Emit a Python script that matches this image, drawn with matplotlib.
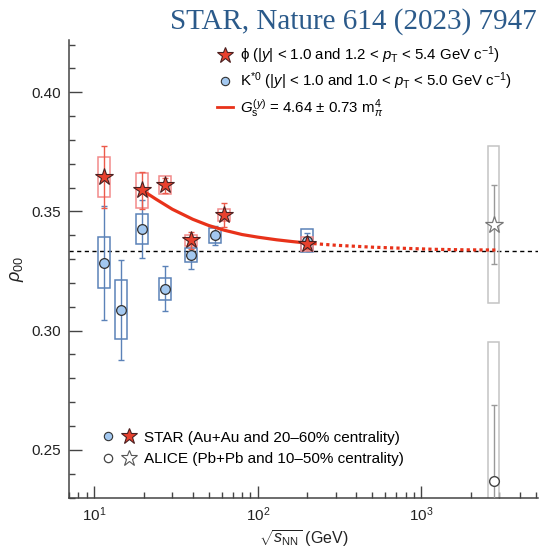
import numpy as np
import matplotlib
matplotlib.use('Agg')
from matplotlib import pyplot as plt
from matplotlib.patches import Rectangle
from matplotlib.lines import Line2D
from matplotlib.legend_handler import HandlerTuple
from matplotlib.ticker import MultipleLocator

plt.rcParams['font.family'] = ['Liberation Sans', 'DejaVu Sans']
plt.rcParams['mathtext.fontset'] = 'custom'
plt.rcParams['mathtext.rm'] = 'Liberation Sans'
plt.rcParams['mathtext.it'] = 'Liberation Sans:italic'
plt.rcParams['mathtext.bf'] = 'Liberation Sans:bold'

# STAR phi, Au+Au 20-60%
phi_e = [11.5, 19.6, 27.0, 39.0, 62.4, 200.0]
phi_rho = [0.3644, 0.3588, 0.3609, 0.3378, 0.3486, 0.3363]
phi_stat = [0.0131, 0.0076, 0.0030, 0.0035, 0.0050, 0.0020]
phi_sys = [0.0084, 0.0072, 0.0038, 0.0024, 0.0026, 0.0030]

# STAR K*0, Au+Au 20-60%
ks_e = [11.5, 14.5, 19.6, 27.0, 39.0, 54.4, 200.0]
ks_rho = [0.3284, 0.3088, 0.3426, 0.3175, 0.3318, 0.3399, 0.3377]
ks_stat = [0.0240, 0.0210, 0.0120, 0.0094, 0.0060, 0.0040, 0.0032]
ks_sys = [0.0107, 0.0124, 0.0063, 0.0047, 0.0030, 0.0032, 0.0049]

# ALICE Pb+Pb 10-50%
alice_e = [2760.0]
alice_phi_rho = [0.3444]
alice_phi_stat = [0.0165]
alice_phi_sys = [0.0330]
alice_ks_rho = [0.2371]
alice_ks_stat = [0.0318]
alice_ks_sys = [0.0580]

# G_s^(y) model curve, solid over the fitted range, dotted beyond
fit_e = [19.6, 24, 30, 40, 50, 62.4, 80, 100, 130, 160, 200]
fit_rho = [0.3589, 0.3550, 0.3509, 0.3467, 0.3441, 0.3421, 0.3403, 0.3392, 0.3381, 0.3374, 0.3367]
ext_e = [200, 300, 500, 800, 1200, 1800, 2900]
ext_rho = [0.3367, 0.3358, 0.3350, 0.3345, 0.3341, 0.3339, 0.3338]

RED = '#e8412e'
RED_BOX = '#f28a8a'
BLUE_FACE = '#a3c8f0'
BLUE_BOX = '#5b82b8'
GREY_BOX = '#c4c4c4'
DARK = '#333333'


def sys_boxes(ax, xs, ys, errs, color, z):
    f = 1.088
    for x, y, e in zip(xs, ys, errs):
        ax.add_patch(Rectangle((x / f, y - e), x * f - x / f, 2 * e, fill=False,
                               edgecolor=color, linewidth=1.1, zorder=z))


fig = plt.figure(figsize=(5.43, 5.52), dpi=100)
ax = fig.add_axes([0.1271, 0.0987, 0.8646, 0.8293])

ax.axhline(1 / 3, color='black', lw=1.0, ls=(0, (3, 2.5)), zorder=1)

# K*0
sys_boxes(ax, ks_e, ks_rho, ks_sys, BLUE_BOX, 2)
ax.errorbar(ks_e, ks_rho, yerr=ks_stat, fmt='none', ecolor=BLUE_BOX, elinewidth=1.0,
            capsize=2, capthick=1.0, zorder=2)
ax.plot(ks_e, ks_rho, 'o', ms=7, mfc=BLUE_FACE, mec=DARK, mew=0.9, ls='none', zorder=4)

# phi
sys_boxes(ax, phi_e, phi_rho, phi_sys, RED_BOX, 3)
ax.errorbar(phi_e, phi_rho, yerr=phi_stat, fmt='none', ecolor='#ec5a4a', elinewidth=1.0,
            capsize=2, capthick=1.0, zorder=3)

# model curve
ax.plot(fit_e, fit_rho, '-', color='#e8321a', lw=2.3, zorder=5)
ax.plot(ext_e, ext_rho, color='#e8321a', lw=2.3, ls=(0, (1.0, 1.0)), zorder=5)

ax.plot(phi_e, phi_rho, '*', ms=13, mfc=RED, mec='#4a2020', mew=0.8, ls='none', zorder=6)

# ALICE
sys_boxes(ax, alice_e, alice_phi_rho, alice_phi_sys, GREY_BOX, 2)
sys_boxes(ax, alice_e, alice_ks_rho, alice_ks_sys, GREY_BOX, 2)
ax.errorbar(alice_e, alice_phi_rho, yerr=alice_phi_stat, fmt='none', ecolor='#999999',
            elinewidth=1.0, capsize=2, capthick=1.0, zorder=3)
ax.errorbar(alice_e, alice_ks_rho, yerr=alice_ks_stat, fmt='none', ecolor='#999999',
            elinewidth=1.0, capsize=2, capthick=1.0, zorder=3)
ax.plot(alice_e, alice_phi_rho, '*', ms=13, mfc='white', mec='#777777', mew=0.9, ls='none', zorder=6)
ax.plot(alice_e, alice_ks_rho, 'o', ms=7, mfc='white', mec='#444444', mew=1.0, ls='none', zorder=6)

ax.set_xscale('log')
ax.set_xlim(7.0, 5200)
ax.set_ylim(0.23, 0.422)
ax.yaxis.set_major_locator(MultipleLocator(0.05))
ax.yaxis.set_minor_locator(MultipleLocator(0.01))
ax.yaxis.set_major_formatter(plt.FormatStrFormatter('%.2f'))

for s in ['top', 'right']:
    ax.spines[s].set_visible(False)
for s in ['left', 'bottom']:
    ax.spines[s].set_color('#444444')
    ax.spines[s].set_linewidth(1.1)
ax.tick_params(which='both', direction='in', colors='#444444', labelcolor='#222222',
               labelsize=11, width=1.0)
ax.tick_params(which='major', length=9, pad=6)
ax.tick_params(which='minor', length=4.5)

ax.set_xlabel(r'$\sqrt{s_{\mathrm{NN}}}$ (GeV)', fontsize=11.5, color='#222222', labelpad=3)
ax.set_ylabel(r'$\rho_{00}$', fontsize=13, color='#222222', labelpad=4)

# top legend
h_phi = Line2D([], [], marker='*', ms=12, mfc=RED, mec='#4a2020', mew=0.8, ls='none')
h_ks = Line2D([], [], marker='o', ms=6, mfc=BLUE_FACE, mec=DARK, mew=0.8, ls='none')
h_fit = Line2D([], [], color='#e8321a', lw=2.0)
leg1 = ax.legend([h_phi, h_ks, h_fit],
                 [r'ϕ (|$y$| < 1.0 and 1.2 < $p_{\mathrm{T}}$ < 5.4 GeV c$^{-1}$)',
                  r'K$^{*0}$ (|$y$| < 1.0 and 1.0 < $p_{\mathrm{T}}$ < 5.0 GeV c$^{-1}$)',
                  r'$G_{\mathrm{s}}^{(y)}$ = 4.64 ± 0.73 m$_{\pi}^{4}$'],
                 loc='upper left', bbox_to_anchor=(209 / 543, 1 - 37 / 552),
                 bbox_transform=fig.transFigure, frameon=False, fontsize=10.8,
                 handlelength=1.1, handletextpad=0.45, labelspacing=0.3, borderpad=0)
ax.add_artist(leg1)

# bottom legend
s_ks = Line2D([], [], marker='o', ms=6, mfc=BLUE_FACE, mec=DARK, mew=0.8, ls='none')
s_phi = Line2D([], [], marker='*', ms=12, mfc=RED, mec='#4a2020', mew=0.8, ls='none')
a_ks = Line2D([], [], marker='o', ms=6, mfc='white', mec='#444444', mew=0.9, ls='none')
a_phi = Line2D([], [], marker='*', ms=12, mfc='white', mec='#555555', mew=0.8, ls='none')
ax.legend([(s_ks, s_phi), (a_ks, a_phi)],
          ['STAR (Au+Au and 20–60% centrality)', 'ALICE (Pb+Pb and 10–50% centrality)'],
          handler_map={tuple: HandlerTuple(ndivide=None, pad=0.6)},
          loc='upper left', bbox_to_anchor=(94 / 543, 1 - 423 / 552),
          bbox_transform=fig.transFigure, frameon=False, fontsize=11,
          handlelength=2.2, handletextpad=0.55, labelspacing=0.5, borderpad=0)

fig.text(537 / 543, 1 - 8 / 552, 'STAR, Nature 614 (2023) 7947', ha='right', va='top',
         family=['Liberation Serif', 'DejaVu Serif'], fontsize=21, color='#2b5a8a')

fig.savefig('out.png', dpi=100)
